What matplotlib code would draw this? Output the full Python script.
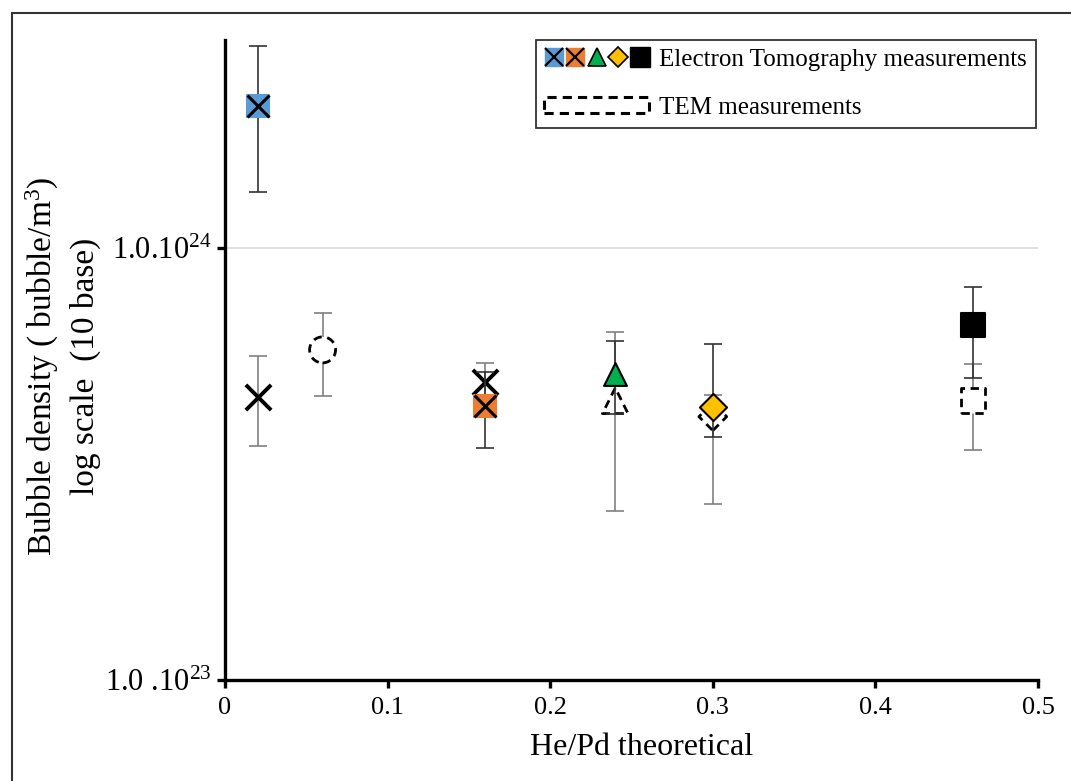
import numpy as np
import matplotlib
matplotlib.use("Agg")
import matplotlib.pyplot as plt
from matplotlib.lines import Line2D
from matplotlib.patches import Rectangle
from matplotlib.legend_handler import HandlerTuple

plt.rcParams['font.family'] = ['Liberation Serif', 'DejaVu Serif']
plt.rcParams['mathtext.fontset'] = 'custom'
plt.rcParams['mathtext.rm'] = 'Liberation Serif'
plt.rcParams['mathtext.it'] = 'Liberation Serif:italic'

# Electron tomography measurements (value, lower end, upper end of error bar)
et_x = [0.02, 0.16, 0.24, 0.30, 0.46]
et_y = [2.13e24, 4.31e23, 5.10e23, 4.29e23, 6.64e23]
et_lo = [1.35e24, 3.44e23, 4.13e23, 3.65e23, 5.00e23]
et_hi = [2.94e24, 5.16e23, 6.09e23, 5.99e23, 8.12e23]
et_col = ['#5b9bd5', '#ed7d31', '#00b050', '#ffc000', '#000000']
et_mark = ['s', 's', '^', 'D', 's']
et_size = [250, 250, 270, 190, 285]
et_cross = [True, True, False, False, False]

# TEM measurements
tem_x = [0.02, 0.06, 0.16, 0.24, 0.30, 0.46]
tem_y = [4.53e23, 5.81e23, 4.90e23, 4.43e23, 4.07e23, 4.43e23]
tem_lo = [3.48e23, 4.55e23, 4.43e23, 2.46e23, 2.55e23, 3.41e23]
tem_hi = [5.63e23, 7.07e23, 5.42e23, 6.40e23, 4.57e23, 5.38e23]
tem_mark = ['x', 'o', 'x', '^', 'D', 's']
tem_size = [330, 350, 330, 340, 200, 320]

fig = plt.figure(figsize=(10.71, 7.81), dpi=100)
ax = fig.add_axes([0.2101, 0.1293, 0.7591, 0.8195])

# frame round the whole figure
fig.patches.append(Rectangle((12 / 1071, -0.1), 1.2, 1 - 13 / 781 + 0.1,
                             transform=fig.transFigure, fill=False,
                             edgecolor='#333333', lw=1.5))

ax.set_yscale('log')
ax.set_xlim(0, 0.5)
ax.set_ylim(1e23, 3.03e24)

# TEM first (underneath)
tem_y_arr = np.array(tem_y)
ax.errorbar(tem_x, tem_y, yerr=[tem_y_arr - np.array(tem_lo), np.array(tem_hi) - tem_y_arr],
            fmt='none', ecolor='#808080', elinewidth=1.2, capsize=6.5, capthick=1.2, zorder=2)
for x, y, m, s in zip(tem_x, tem_y, tem_mark, tem_size):
    if m == 'x':
        ax.scatter([x], [y], marker='x', s=s, c='k', linewidths=2.8, zorder=3)
    else:
        ax.scatter([x], [y], marker=m, s=s, facecolors='white', edgecolors='k',
                   linewidths=2.0, linestyles=(0, (3, 2)), zorder=3)

et_y_arr = np.array(et_y)
ax.errorbar(et_x, et_y, yerr=[et_y_arr - np.array(et_lo), np.array(et_hi) - et_y_arr],
            fmt='none', ecolor='#333333', elinewidth=1.2, capsize=6.5, capthick=1.2, zorder=4)
for x, y, m, s, c, cr in zip(et_x, et_y, et_mark, et_size, et_col, et_cross):
    ax.scatter([x], [y], marker=m, s=s, c=c, edgecolors='k' if not cr else c,
               linewidths=1.5, zorder=5)
    if cr:
        ax.scatter([x], [y], marker='x', s=s, c='k', linewidths=2.2, zorder=6)

# axes styling
for sp in ['top', 'right']:
    ax.spines[sp].set_visible(False)
for sp in ['left', 'bottom']:
    ax.spines[sp].set_linewidth(2.4)
ax.set_xticks([0, 0.1, 0.2, 0.3, 0.4, 0.5])
ax.set_xticklabels(['0', '0.1', '0.2', '0.3', '0.4', '0.5'])
ax.set_yticks([1e23, 1e24])
ax.set_yticklabels([r'1.0 .10$^{23}$', r'1.0.10$^{24}$'])
ax.yaxis.set_minor_locator(matplotlib.ticker.NullLocator())
ax.tick_params(axis='both', which='major', direction='out', length=6, width=2.4)
ax.tick_params(axis='x', labelsize=19, pad=6)
ax.tick_params(axis='y', labelsize=22, pad=4)
ax.grid(axis='y', which='major', color='#d9d9d9', lw=1.2)
ax.set_axisbelow(True)

ax.set_xlabel('He/Pd theoretical', fontsize=23)
ax.xaxis.set_label_coords(0.512, -0.083)
ax.set_ylabel('Bubble density ( bubble/m$^3$)\nlog scale  (10 base)', fontsize=24,
              linespacing=1.4)
ax.yaxis.set_label_coords(-0.152, 0.49)

# legend
h_sq_b = (Line2D([], [], marker='s', ls='none', mfc=et_col[0], mec=et_col[0], ms=13),
          Line2D([], [], marker='x', ls='none', mec='k', ms=13, mew=1.6))
h_sq_o = (Line2D([], [], marker='s', ls='none', mfc=et_col[1], mec=et_col[1], ms=13),
          Line2D([], [], marker='x', ls='none', mec='k', ms=13, mew=1.6))
h_tri = Line2D([], [], marker='^', ls='none', mfc=et_col[2], mec='k', ms=13, mew=1.2)
h_dia = Line2D([], [], marker='D', ls='none', mfc=et_col[3], mec='k', ms=10, mew=1.2)
h_blk = Line2D([], [], marker='s', ls='none', mfc='k', mec='k', ms=15)
h_et = (h_sq_b, h_sq_o, h_tri, h_dia, h_blk)
h_tem = Rectangle((0, 0), 1, 1, fill=False, edgecolor='k', lw=2.2, linestyle=(0, (3, 2)))
leg = ax.legend([h_et, h_tem],
                ['Electron Tomography measurements', 'TEM measurements'],
                handler_map={h_et: HandlerTuple(ndivide=None, pad=0.1)},
                loc='upper right', bbox_to_anchor=(0.9975, 1.0), borderaxespad=0,
                fontsize=18, handlelength=4.2, handleheight=0.6, handletextpad=0.4,
                labelspacing=1.05, borderpad=0.35, fancybox=False, framealpha=1,
                edgecolor='#333333')
leg.get_frame().set_linewidth(1.3)

fig.savefig('out.png', dpi=100)
